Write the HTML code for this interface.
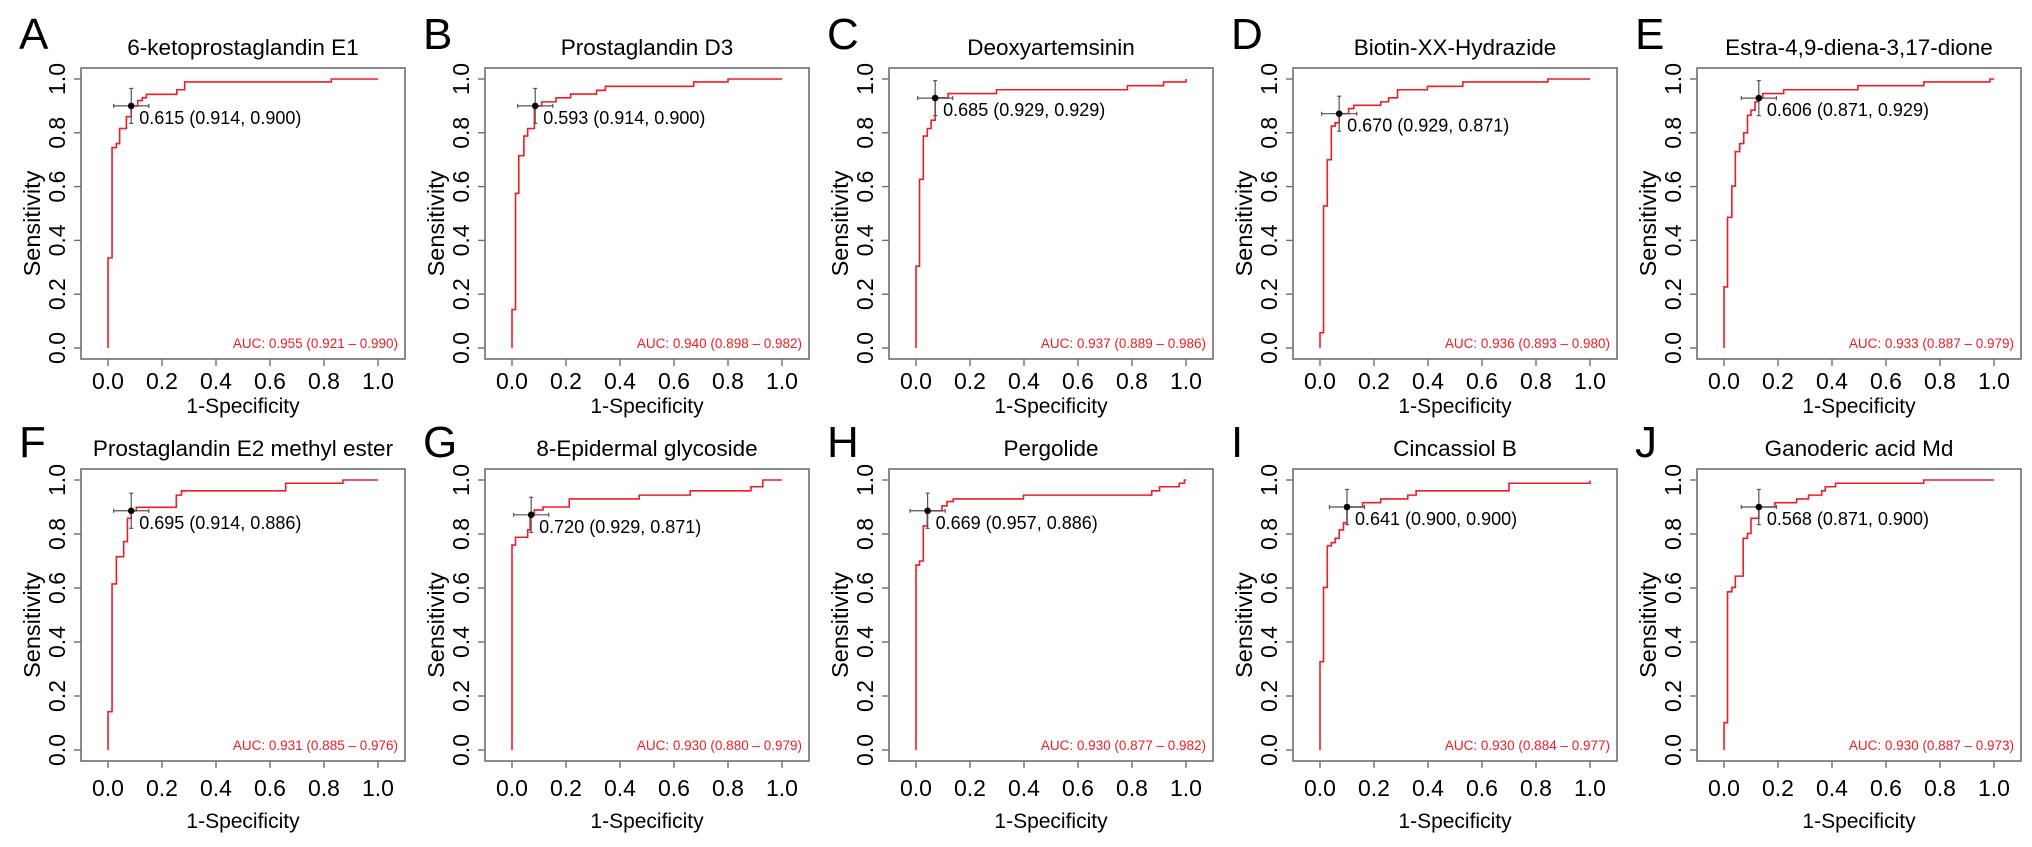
<!DOCTYPE html>
<html><head><meta charset="utf-8">
<style>
html,body{margin:0;padding:0;background:#fff;}
svg{display:block;font-family:"Liberation Sans",Arial,sans-serif;}
</style></head>
<body>
<svg id="chart" width="2032" height="847" viewBox="0 0 2032 847" xmlns="http://www.w3.org/2000/svg"></svg>
<script>
const letters = ["A","B","C","D","E","F","G","H","I","J"];
const titles = ["6-ketoprostaglandin E1","Prostaglandin D3","Deoxyartemsinin","Biotin-XX-Hydrazide","Estra-4,9-diena-3,17-dione","Prostaglandin E2 methyl ester","8-Epidermal glycoside","Pergolide","Cincassiol B","Ganoderic acid Md"];
const aucLabels = ["AUC: 0.955 (0.921 \u2013 0.990)","AUC: 0.940 (0.898 \u2013 0.982)","AUC: 0.937 (0.889 \u2013 0.986)","AUC: 0.936 (0.893 \u2013 0.980)","AUC: 0.933 (0.887 \u2013 0.979)","AUC: 0.931 (0.885 \u2013 0.976)","AUC: 0.930 (0.880 \u2013 0.979)","AUC: 0.930 (0.877 \u2013 0.982)","AUC: 0.930 (0.884 \u2013 0.977)","AUC: 0.930 (0.887 \u2013 0.973)"];
const cutLabels = ["0.615 (0.914, 0.900)","0.593 (0.914, 0.900)","0.685 (0.929, 0.929)","0.670 (0.929, 0.871)","0.606 (0.871, 0.929)","0.695 (0.914, 0.886)","0.720 (0.929, 0.871)","0.669 (0.957, 0.886)","0.641 (0.900, 0.900)","0.568 (0.871, 0.900)"];
const cutFpr = [0.086,0.086,0.071,0.071,0.129,0.086,0.071,0.043,0.100,0.129];
const cutTpr = [0.900,0.900,0.929,0.871,0.929,0.886,0.871,0.886,0.900,0.900];
const ciHalfX = 0.065, ciHalfY = 0.065;
const tickValues = [0,0.2,0.4,0.6,0.8,1.0];
const tickLabels = ["0.0","0.2","0.4","0.6","0.8","1.0"];

const rocA_x=[0,0.015,0.031,0.043,0.068,0.086,0.11,0.127,0.142,0.255,0.284,0.827];
const rocA_y=[0.335,0.745,0.76,0.816,0.86,0.90,0.92,0.93,0.943,0.96,0.989,1.0];
const rocB_x=[0,0.013,0.025,0.044,0.058,0.083,0.11,0.163,0.217,0.313,0.346,0.673,0.80];
const rocB_y=[0.143,0.575,0.715,0.788,0.816,0.90,0.915,0.93,0.944,0.958,0.973,0.989,1.0];
const rocC_x=[0,0.013,0.027,0.042,0.056,0.071,0.119,0.298,0.783,0.917,1.0];
const rocC_y=[0.304,0.627,0.788,0.816,0.847,0.93,0.946,0.96,0.975,0.989,1.0];
const rocD_x=[0,0.013,0.027,0.042,0.056,0.071,0.106,0.125,0.225,0.254,0.287,0.398,0.529,0.844];
const rocD_y=[0.057,0.528,0.70,0.825,0.837,0.871,0.89,0.902,0.915,0.93,0.96,0.973,0.989,1.0];
const rocE_x=[0,0.013,0.029,0.042,0.058,0.073,0.087,0.10,0.115,0.129,0.144,0.221,0.496,0.74,0.985];
const rocE_y=[0.227,0.486,0.602,0.73,0.76,0.80,0.865,0.884,0.915,0.93,0.946,0.96,0.975,0.989,1.0];
const rocF_x=[0,0.015,0.031,0.058,0.072,0.086,0.105,0.253,0.272,0.658,0.87];
const rocF_y=[0.142,0.615,0.716,0.772,0.858,0.886,0.899,0.944,0.96,0.988,1.0];
const rocG_x=[0,0.013,0.058,0.067,0.083,0.115,0.212,0.471,0.66,0.885,0.929];
const rocG_y=[0.759,0.788,0.815,0.874,0.889,0.90,0.93,0.944,0.96,0.975,1.0];
const rocH_x=[0,0.013,0.027,0.042,0.096,0.115,0.138,0.398,0.873,0.902,0.975,0.994];
const rocH_y=[0.685,0.70,0.83,0.886,0.904,0.92,0.93,0.944,0.96,0.975,0.988,1.0];
const rocI_x=[0,0.013,0.027,0.042,0.056,0.071,0.087,0.10,0.158,0.225,0.325,0.356,0.70,1.0];
const rocI_y=[0.327,0.602,0.756,0.768,0.784,0.815,0.842,0.90,0.916,0.93,0.944,0.96,0.988,0.998];
const rocJ_x=[0,0.013,0.029,0.042,0.071,0.087,0.10,0.129,0.188,0.269,0.313,0.362,0.375,0.413,0.74];
const rocJ_y=[0.101,0.586,0.602,0.644,0.784,0.802,0.858,0.90,0.916,0.93,0.944,0.96,0.975,0.988,1.0];
const rocXs=[rocA_x,rocB_x,rocC_x,rocD_x,rocE_x,rocF_x,rocG_x,rocH_x,rocI_x,rocJ_x];
const rocYs=[rocA_y,rocB_y,rocC_y,rocD_y,rocE_y,rocF_y,rocG_y,rocH_y,rocI_y,rocJ_y];

const NS="http://www.w3.org/2000/svg";
const svg=document.getElementById("chart");
function mk(tag,attrs,parent,text){const e=document.createElementNS(NS,tag);for(const k in attrs)e.setAttribute(k,attrs[k]);if(text!==undefined)e.textContent=text;parent.appendChild(e);return e;}

for(let i=0;i<10;i++){
  const col=i%5,row=Math.floor(i/5);
  const dx=404*col;
  const L=81+dx,R=405+dx;
  const T=row?469:68,B=row?761:359;
  const X0=108+dx,X1=378+dx;
  const Y0=row?750:348,Y1=row?480:79;
  const sx=v=>X0+v*(X1-X0);
  const sy=v=>Y0-v*(Y0-Y1);
  const g=mk("g",{},svg);
  
  

  const lt=mk("text",{x:L-62,y:row?T-12:T-19,"font-size":44,fill:"#000"},g,letters[i]);
  
  
  const tt=mk("text",{x:(L+R)/2,y:T-13,"font-size":22.5,"text-anchor":"middle",fill:"#000"},g,titles[i]);
  
  

  const box=mk("rect",{x:L,y:T,width:R-L,height:B-T,fill:"none",stroke:"#6e6e6e","stroke-width":1.6},g);
  
  

  for(let t=0;t<tickValues.length;t++){
    const xv=sx(tickValues[t]);
    mk("line",{x1:xv,y1:B,x2:xv,y2:B+7,stroke:"#6e6e6e","stroke-width":1.4},g);
    const xl=mk("text",{x:xv,y:(row?787:380)+9,"font-size":23,"text-anchor":"middle",fill:"#000"},g,tickLabels[t]);
    
    
    const yv=sy(tickValues[t]);
    mk("line",{x1:L,y1:yv,x2:L-7,y2:yv,stroke:"#6e6e6e","stroke-width":1.4},g);
    const yl=mk("text",{x:0,y:0,"font-size":23,"text-anchor":"middle",fill:"#000",transform:`translate(${L-16},${yv}) rotate(-90)`},g,tickLabels[t]);
    
    
  }
  const xt=mk("text",{x:(L+R)/2,y:(row?820:405)+8,"font-size":21,"text-anchor":"middle",fill:"#000"},g,"1-Specificity");
  
  
  const yt=mk("text",{x:0,y:0,"font-size":23.5,"text-anchor":"middle",fill:"#000",transform:`translate(${L-41},${(T+B)/2+10}) rotate(-90)`},g,"Sensitivity");
  
  

  const xs=rocXs[i],ys=rocYs[i];
  let d=`M${sx(0)},${sy(0)}`;let prevY=0;
  for(let k=0;k<xs.length;k++){d+=` L${sx(xs[k])},${sy(prevY)} L${sx(xs[k])},${sy(ys[k])}`;prevY=ys[k];}
  d+=` L${sx(1)},${sy(prevY)}`;
  const curve=mk("path",{d:d,fill:"none",stroke:"#ee1c25","stroke-width":1.6},g);
  
  

  const px=sx(cutFpr[i]),py=sy(cutTpr[i]);
  const ci=mk("g",{stroke:"#555","stroke-width":1.2},g);
  
  
  mk("line",{x1:sx(cutFpr[i]-ciHalfX),y1:py,x2:sx(cutFpr[i]+ciHalfX),y2:py},ci);
  mk("line",{x1:px,y1:sy(cutTpr[i]-ciHalfY),x2:px,y2:sy(cutTpr[i]+ciHalfY)},ci);
  mk("line",{x1:sx(cutFpr[i]-ciHalfX),y1:py-2,x2:sx(cutFpr[i]-ciHalfX),y2:py+2},ci);
  mk("line",{x1:sx(cutFpr[i]+ciHalfX),y1:py-2,x2:sx(cutFpr[i]+ciHalfX),y2:py+2},ci);
  mk("line",{x1:px-2,y1:sy(cutTpr[i]-ciHalfY),x2:px+2,y2:sy(cutTpr[i]-ciHalfY)},ci);
  mk("line",{x1:px-2,y1:sy(cutTpr[i]+ciHalfY),x2:px+2,y2:sy(cutTpr[i]+ciHalfY)},ci);
  const pt=mk("circle",{cx:px,cy:py,r:3.3,fill:"#000"},g);
  
  
  const cl=mk("text",{x:px+8,y:py+18,"font-size":18,fill:"#000"},g,cutLabels[i]);
  
  

  const al=mk("text",{x:R-7,y:Y0,"font-size":13.5,"text-anchor":"end",fill:"#ee1c25"},g,aucLabels[i]);
  
  
}
</script>
</body></html>
